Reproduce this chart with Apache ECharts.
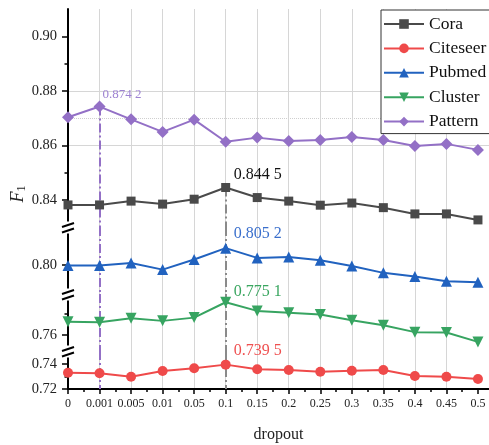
<!DOCTYPE html>
<html>
<head>
<meta charset="utf-8">
<script src="https://cdn.jsdelivr.net/npm/echarts@6/dist/echarts.min.js"></script>
<style>
  html, body { margin: 0; padding: 0; background: #fff; }
  #chart { width: 489px; height: 445px; }
</style>
</head>
<body>
<div id="chart"></div>
<script>
// dropout rates on the x axis
const categories = ['0', '0.001', '0.005', '0.01', '0.05', '0.1', '0.15', '0.2', '0.25', '0.3', '0.35', '0.4', '0.45', '0.5'];

// F1 per dataset
const cora     = [0.8381, 0.8381, 0.8395, 0.8384, 0.8402, 0.8445, 0.8408, 0.8395, 0.8380, 0.8388, 0.8371, 0.8348, 0.8348, 0.8326];
const citeseer = [0.7330, 0.7326, 0.7298, 0.7344, 0.7366, 0.7395, 0.7358, 0.7352, 0.7338, 0.7346, 0.7352, 0.7304, 0.7298, 0.7280];
const pubmed   = [0.7999, 0.7999, 0.8006, 0.7986, 0.8017, 0.8052, 0.8022, 0.8025, 0.8015, 0.7997, 0.7976, 0.7965, 0.7950, 0.7947];
const cluster  = [0.7661, 0.7659, 0.7677, 0.7665, 0.7680, 0.7751, 0.7711, 0.7702, 0.7694, 0.7668, 0.7645, 0.7613, 0.7611, 0.7568];
const pattern  = [0.8703, 0.8742, 0.8695, 0.8649, 0.8694, 0.8613, 0.8628, 0.8616, 0.8619, 0.8630, 0.8619, 0.8597, 0.8605, 0.8583];

// index of the annotated best value
const peakCora = 5;
const peakPattern = 1;

// y tick labels of the broken axis, top segment to bottom segment
const yTicksA = [0.84, 0.86, 0.88, 0.90];
const yMinorA = [0.85, 0.87, 0.89];
const yTicksB = [0.80];
const yMinorB = [];
const yTicksC = [0.76];
const yMinorC = [0.77];
const yTicksD = [0.72, 0.74];
const yMinorD = [0.73];

const FONT = '"Liberation Serif", "Times New Roman", serif';
const GRID_LEFT = 68;
const X_MAX = 13.35;

// the four stacked panels of the broken y axis
const segments = [
  { top: 9,   bottom: 227, min: 0.83,   max: 0.91,   major: yTicksA, minor: yMinorA },
  { top: 227, bottom: 294, min: 0.7911, max: 0.8117, major: yTicksB, minor: yMinorB },
  { top: 294, bottom: 351, min: 0.7526, max: 0.7789, major: yTicksC, minor: yMinorC },
  { top: 351, bottom: 389, min: 0.72,   max: 0.7504, major: yTicksD, minor: yMinorD }
];

const catIdx = categories.map((c, i) => i);
const minorX = categories.slice(1).map((c, i) => i + 0.5);

const grids = segments.map(s => ({
  left: GRID_LEFT, right: 0, top: s.top, height: s.bottom - s.top, containLabel: false
}));

const xAxes = segments.map((s, i) => {
  const last = i === segments.length - 1;
  return {
    type: 'value', gridIndex: i, min: 0, max: X_MAX, position: 'bottom',
    axisLine: { show: last, onZero: false, lineStyle: { color: '#000', width: 2 } },
    axisTick: { show: last, customValues: catIdx, length: 5, lineStyle: { color: '#000', width: 1.5 } },
    axisLabel: {
      show: last, customValues: catIdx, margin: 9,
      fontFamily: FONT, fontSize: 12, color: '#222',
      formatter: v => categories[Math.round(v)]
    },
    splitLine: { show: true, showMinLine: false, showMaxLine: false, lineStyle: { color: '#d6d6d6', width: 1 } },
    name: last ? 'dropout' : '',
    nameLocation: 'middle', nameGap: 38,
    nameTextStyle: { fontFamily: FONT, fontSize: 16, color: '#222' }
  };
});
// short ticks halfway between categories
xAxes.push({
  type: 'value', gridIndex: 3, min: 0, max: X_MAX, position: 'bottom',
  axisLine: { show: false },
  axisTick: { show: true, customValues: minorX, length: 3, lineStyle: { color: '#000', width: 1.5 } },
  axisLabel: { show: false },
  splitLine: { show: false }
});

const yAxes = segments.map((s, i) => ({
  type: 'value', gridIndex: i, min: s.min, max: s.max, position: 'left',
  axisLine: { show: true, onZero: false, lineStyle: { color: '#000', width: 2 } },
  axisTick: { show: true, customValues: s.major, length: 6, lineStyle: { color: '#000', width: 1.5 } },
  axisLabel: {
    show: true, customValues: s.major, margin: 11,
    fontFamily: FONT, fontSize: 14.5, color: '#222',
    formatter: v => v.toFixed(2)
  },
  splitLine: { show: true, showMinLine: false, showMaxLine: false, lineStyle: { color: '#d6d6d6', width: 1 } }
}));
segments.forEach((s, i) => {
  if (!s.minor.length) return;
  yAxes.push({
    type: 'value', gridIndex: i, min: s.min, max: s.max, position: 'left', offset: 0,
    axisLine: { show: false },
    axisTick: { show: true, customValues: s.minor, length: 3.5, lineStyle: { color: '#000', width: 1.5 } },
    axisLabel: { show: false },
    splitLine: { show: true, showMinLine: false, showMaxLine: false, lineStyle: { color: '#cfcfcf', width: 1, type: 'dotted' } }
  });
});

const fmtValue = v => { const s = v.toFixed(4); return s.slice(0, 5) + ' ' + s.slice(5); };

function seriesData(values, peak, labelOpt) {
  return values.map((v, i) => {
    if (i !== peak) return [i, v];
    return {
      value: [i, v],
      label: Object.assign({
        show: true, position: 'top', align: 'left',
        fontFamily: FONT, formatter: p => fmtValue(p.value[1])
      }, labelOpt)
    };
  });
}

const PURPLE = '#9370c6';
const GREY = '#8a8a8a';
const DASH_DOT = [9, 3, 2, 3];

function guideLines(topPoints, segIdx) {
  // vertical dash-dot guides from the best points down to the x axis
  const seg = segments[segIdx];
  return topPoints.map(g => {
    const start = g.value != null ? { coord: [g.x, g.value] } : { coord: [g.x, seg.max] };
    return [
      Object.assign(start, { lineStyle: { color: g.color, width: 2, type: DASH_DOT } }),
      { coord: [g.x, seg.min] }
    ];
  });
}
const markLineBase = { silent: true, symbol: ['none', 'none'], label: { show: false }, animation: false, z: 1 };

function makeSeries(name, values, gridIdx, color, symbol, size, extra) {
  return Object.assign({
    name, type: 'line', xAxisIndex: gridIdx, yAxisIndex: gridIdx,
    symbol, symbolSize: size, color,
    lineStyle: { color, width: 2 },
    itemStyle: { color },
    z: 3
  }, extra);
}

const seriesList = [
  makeSeries('Cora', cora, 0, '#4a4a4a', 'rect', 9, {
    data: seriesData(cora, peakCora, { color: '#111', fontSize: 16, offset: [8, 5] }),
    markLine: Object.assign({ data: guideLines([{ x: peakCora, value: cora[peakCora], color: GREY }], 0) }, markLineBase)
  }),
  makeSeries('Citeseer', citeseer, 3, '#ef4a4a', 'circle', 10, {
    data: seriesData(citeseer, peakCora, { color: '#ef5050', fontSize: 16, offset: [8, 4] }),
    markLine: Object.assign({ data: guideLines([{ x: peakPattern, color: PURPLE }, { x: peakCora, color: GREY }], 3) }, markLineBase)
  }),
  makeSeries('Pubmed', pubmed, 1, '#2162bf', 'triangle', 11, {
    data: seriesData(pubmed, peakCora, { color: '#3a6fcc', fontSize: 16, offset: [8, 4] }),
    markLine: Object.assign({ data: guideLines([{ x: peakPattern, color: PURPLE }, { x: peakCora, color: GREY }], 1) }, markLineBase)
  }),
  makeSeries('Cluster', cluster, 2, '#37a461', 'triangle', 11, {
    symbolRotate: 180,
    data: seriesData(cluster, peakCora, { color: '#3aa660', fontSize: 16, offset: [8, 8] }),
    markLine: Object.assign({ data: guideLines([{ x: peakPattern, color: PURPLE }, { x: peakCora, color: GREY }], 2) }, markLineBase)
  }),
  makeSeries('Pattern', pattern, 0, PURPLE, 'diamond', 12, {
    data: seriesData(pattern, peakPattern, { color: '#9d82d2', fontSize: 13, offset: [3, 6] }),
    markLine: Object.assign({ data: guideLines([{ x: peakPattern, value: pattern[peakPattern], color: PURPLE }], 0) }, markLineBase)
  })
];

const chart = echarts.init(document.getElementById('chart'), null, { renderer: 'canvas' });
chart.setOption({
  animation: false,
  backgroundColor: '#fff',
  grid: grids,
  xAxis: xAxes,
  yAxis: yAxes,
  legend: {
    data: ['Cora', 'Citeseer', 'Pubmed', 'Cluster', 'Pattern'],
    orient: 'vertical', left: 381, top: 10,
    itemWidth: 40, itemHeight: 12, itemGap: 6.4,
    padding: [5, 14, 3, 2],
    borderColor: '#333', borderWidth: 1, backgroundColor: '#fff',
    textStyle: { fontFamily: FONT, fontSize: 17.5, lineHeight: 18, color: '#111' }
  },
  series: seriesList
});

// axis-break marks and the rotated F1 title
const axisX = chart.convertToPixel({ xAxisIndex: 0 }, 0);
const breaks = segments.slice(0, -1).map((s, i) => chart.convertToPixel({ yAxisIndex: i }, s.min));
const graphics = [];
breaks.forEach(y => {
  const yc = y + 0.5;
  graphics.push({ type: 'rect', shape: { x: axisX - 2, y: yc - 6, width: 4, height: 12 }, style: { fill: '#fff' }, z: 100 });
  graphics.push({ type: 'line', shape: { x1: axisX - 6, y1: yc - 0.5, x2: axisX + 6, y2: yc - 4.5 }, style: { stroke: '#000', lineWidth: 2 }, z: 101 });
  graphics.push({ type: 'line', shape: { x1: axisX - 6, y1: yc + 5, x2: axisX + 6, y2: yc + 1 }, style: { stroke: '#000', lineWidth: 2 }, z: 101 });
});
graphics.push({
  type: 'text', x: 18, y: 194, rotation: Math.PI / 2,
  style: {
    text: '{f|F}{s|1}', align: 'center', verticalAlign: 'middle',
    rich: {
      f: { fontFamily: FONT, fontStyle: 'italic', fontSize: 18, fill: '#222' },
      s: { fontFamily: FONT, fontSize: 12, fill: '#222', padding: [8, 0, 0, 0] }
    }
  }
});
chart.setOption({ graphic: graphics });
</script>
</body>
</html>
